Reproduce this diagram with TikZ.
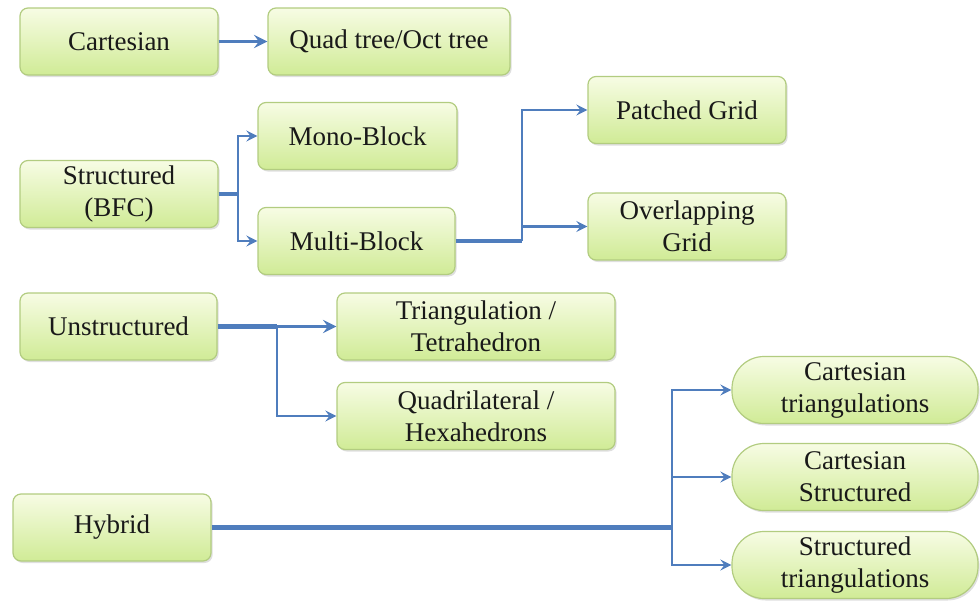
\documentclass[tikz,border=0pt]{standalone}
\usepackage{fontspec}
\setmainfont{Liberation Serif}
\usepackage{xcolor}
\usetikzlibrary{shapes.geometric, arrows, shadows}

\definecolor{boxedge}{RGB}{178,204,128}
\definecolor{boxtop}{RGB}{247,252,228}
\definecolor{boxbottom}{RGB}{208,235,150}
\definecolor{linkblue}{RGB}{79,125,189}

\begin{document}
\begin{tikzpicture}[x=0.5pt,y=-0.5pt]
\tikzstyle{box} = [rectangle, rounded corners=4pt, minimum height=33.5pt, inner sep=2pt, text centered, align=center, draw=boxedge, line width=0.6pt, top color=boxtop, bottom color=boxbottom, text=black!90, font=\fontsize{13.5}{16}\selectfont, drop shadow={opacity=0.25, shadow xshift=0.8pt, shadow yshift=-1pt}]
\tikzstyle{pill} = [box, rounded corners=16pt, minimum width=123pt]
\tikzstyle{trunk} = [draw=linkblue, line width=2.3pt]
\tikzstyle{arrow} = [->, >=stealth, draw=linkblue, line width=1.4pt]

\useasboundingbox (0,0) rectangle (980,600);

\node (cartesian) [box, minimum width=99pt] at (119,41.5) {Cartesian};
\node (quadTree) [box, minimum width=121pt] at (389,41.5) {Quad tree/Oct tree};
\node (structured) [box, minimum width=99pt] at (119,194) {Structured\\(BFC)};
\node (monoBlock) [box, minimum width=99.5pt] at (357.5,136) {Mono-Block};
\node (multiBlock) [box, minimum width=98.5pt] at (356.5,241) {Multi-Block};
\node (patchedGrid) [box, minimum width=99pt] at (687,110) {Patched Grid};
\node (overlappingGrid) [box, minimum width=99pt] at (687,226.5) {Overlapping\\Grid};
\node (unstructured) [box, minimum width=98.5pt] at (118.5,326.5) {Unstructured};
\node (triangulation) [box, minimum width=139pt] at (476,326.5) {Triangulation /\\Tetrahedron};
\node (quadrilateral) [box, minimum width=139pt] at (476,416) {Quadrilateral /\\Hexahedrons};
\node (hybrid) [box, minimum width=99pt] at (112,527.5) {Hybrid};
\node (cartTri) [pill] at (855,390) {Cartesian\\triangulations};
\node (cartStruct) [pill] at (855,477) {Cartesian\\Structured};
\node (structTri) [pill] at (855,565) {Structured\\triangulations};

\coordinate (structSplit) at (238,194);
\coordinate (multiSplit) at (522,241);
\coordinate (unstructSplit) at (277,326.5);
\coordinate (hybridSplit) at (672,527.5);

\draw [arrow, line width=1.9pt] (cartesian) -- (quadTree);

\draw [trunk] (structured) -- (structSplit);
\draw [arrow] (structSplit) |- (monoBlock.west);
\draw [arrow] (structSplit) |- (multiBlock.west);

\draw [trunk] (multiBlock) -- (multiSplit);
\draw [arrow] (multiSplit) |- (patchedGrid.west);
\draw [arrow] (multiSplit) |- (overlappingGrid.west);

\draw [trunk] (unstructured) -- (unstructSplit);
\draw [arrow, line width=1.9pt] (unstructSplit) -- (triangulation);
\draw [arrow] (unstructSplit) |- (quadrilateral.west);

\draw [trunk] (hybrid) -- (hybridSplit);
\draw [arrow] (hybridSplit) |- (cartTri.west);
\draw [arrow] (hybridSplit) |- (cartStruct.west);
\draw [arrow] (hybridSplit) |- (structTri.west);

\end{tikzpicture}
\end{document}
